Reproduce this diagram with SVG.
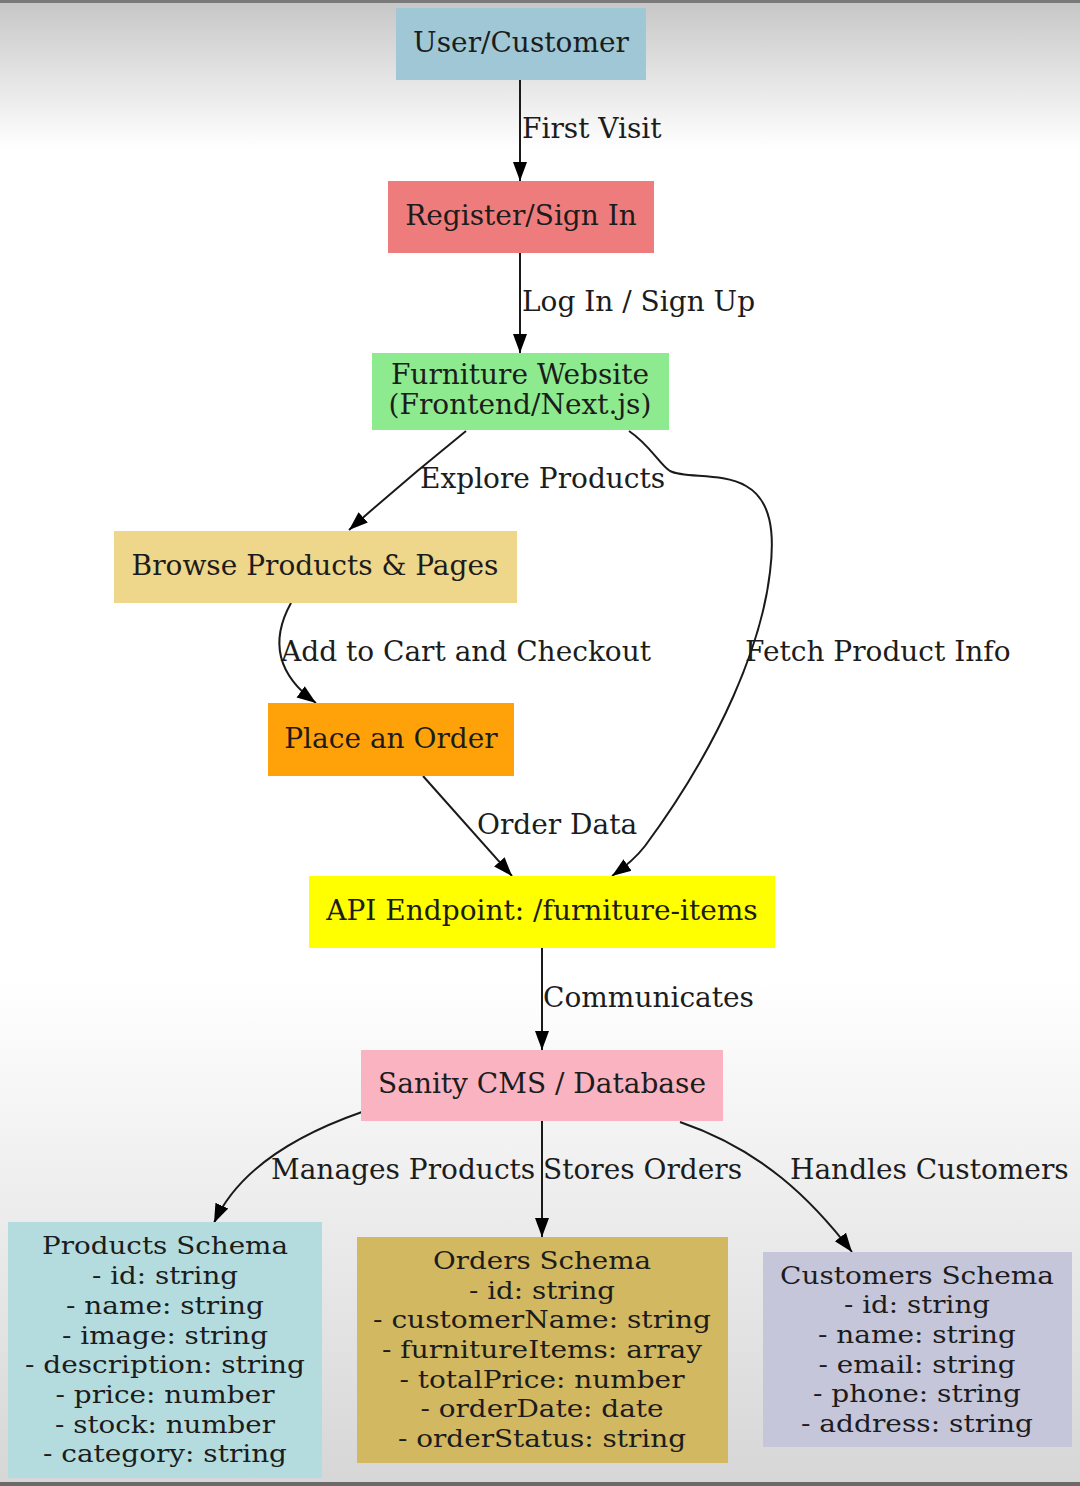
<svg xmlns="http://www.w3.org/2000/svg" width="1080" height="1486" viewBox="0 0 1080 1486">
<defs>
<linearGradient id="bg" x1="0" y1="0" x2="0" y2="1">
<stop offset="0" stop-color="#c6c6c6"/>
<stop offset="0.1" stop-color="#ffffff"/>
<stop offset="0.66" stop-color="#ffffff"/>
<stop offset="1" stop-color="#d6d6d6"/>
</linearGradient>
<marker id="ah" markerUnits="userSpaceOnUse" markerWidth="20" markerHeight="16" viewBox="0 0 20 16" refX="19" refY="8" orient="auto">
<path d="M0,1 L19,8 L0,15 Z" fill="#000"/>
</marker>
<style>
.t{font-family:"DejaVu Serif","Liberation Serif",serif;font-size:28px;fill:#1c1c1c}
.c{text-anchor:middle}
.s{font-family:"DejaVu Serif","Liberation Serif",serif;font-size:25px;fill:#1c1c1c;text-anchor:middle}
.e{fill:none;stroke:#1a1a1a;stroke-width:2;marker-end:url(#ah)}
</style>
</defs>
<rect x="0" y="0" width="1080" height="1486" fill="url(#bg)"/>
<rect x="0" y="0" width="1080" height="3" fill="#7a7a7a"/>
<rect x="0" y="1482" width="1080" height="4" fill="#6a6a6a"/>

<g id="edges">
<path class="e" d="M520,80 L520,181"/>
<path class="e" d="M520,253 L520,353"/>
<path class="e" d="M466,431 C430,460 385,498 349,530"/>
<path class="e" d="M629,431 C650,445 660,465 670,471 C685,479 722,472 746,486 C771,500 775,532 770,572 C762,642 722,742 645,846 C635,859 622,869 612,876"/>
<path class="e" d="M291,603 C276,630 268,668 316,703"/>
<path class="e" d="M423,776 L512,876"/>
<path class="e" d="M542,948 L542,1050"/>
<path class="e" d="M362,1112 C296,1135 238,1170 214,1223"/>
<path class="e" d="M542,1121 L542,1237"/>
<path class="e" d="M680,1122 C762,1150 812,1200 852,1252"/>
<text class="t" x="522" y="138">First Visit</text>
<text class="t" x="522" y="311">Log In / Sign Up</text>
<text class="t" x="420" y="488">Explore Products</text>
<text class="t" x="281" y="661">Add to Cart and Checkout</text>
<text class="t" x="745" y="661">Fetch Product Info</text>
<text class="t" x="477" y="834">Order Data</text>
<text class="t" x="543" y="1007">Communicates</text>
<text class="t" x="271" y="1179">Manages Products</text>
<text class="t" x="543" y="1179">Stores Orders</text>
<text class="t" x="790" y="1179">Handles Customers</text>
</g>

<g id="user">
<rect x="396" y="8" width="250" height="72" fill="#9fc7d6"/>
<text class="t c" x="521" y="52">User/Customer</text>
</g>
<g id="register">
<rect x="388" y="181" width="266" height="72" fill="#ef7c7c"/>
<text class="t c" x="521" y="225">Register/Sign In</text>
</g>
<g id="website">
<rect x="372" y="353" width="297" height="77" fill="#8eea8e"/>
<text class="t c" x="520" y="384">Furniture Website</text>
<text class="t c" x="520" y="414">(Frontend/Next.js)</text>
</g>
<g id="browse">
<rect x="114" y="531" width="403" height="72" fill="#eed68a"/>
<text class="t c" x="315" y="575">Browse Products &amp; Pages</text>
</g>
<g id="order">
<rect x="268" y="703" width="246" height="73" fill="#ffa20a"/>
<text class="t c" x="391" y="748">Place an Order</text>
</g>
<g id="api">
<rect x="309" y="876" width="466" height="72" fill="#ffff00"/>
<text class="t c" x="542" y="920">API Endpoint: /furniture-items</text>
</g>
<g id="sanity">
<rect x="361" y="1050" width="362" height="71" fill="#f9b3c1"/>
<text class="t c" x="542" y="1093">Sanity CMS / Database</text>
</g>
<g id="products">
<rect x="8" y="1222" width="314" height="256" fill="#b4dcdf"/>
<text class="s" x="165" y="1254" textLength="246" lengthAdjust="spacingAndGlyphs">Products Schema</text>
<text class="s" x="165" y="1284" textLength="146" lengthAdjust="spacingAndGlyphs">- id: string</text>
<text class="s" x="165" y="1314" textLength="198" lengthAdjust="spacingAndGlyphs">- name: string</text>
<text class="s" x="165" y="1344" textLength="206" lengthAdjust="spacingAndGlyphs">- image: string</text>
<text class="s" x="165" y="1373" textLength="280" lengthAdjust="spacingAndGlyphs">- description: string</text>
<text class="s" x="165" y="1403" textLength="219" lengthAdjust="spacingAndGlyphs">- price: number</text>
<text class="s" x="165" y="1433" textLength="220" lengthAdjust="spacingAndGlyphs">- stock: number</text>
<text class="s" x="165" y="1462" textLength="244" lengthAdjust="spacingAndGlyphs">- category: string</text>
</g>
<g id="orders">
<rect x="357" y="1237" width="371" height="226" fill="#d2b860"/>
<text class="s" x="542" y="1269" textLength="218" lengthAdjust="spacingAndGlyphs">Orders Schema</text>
<text class="s" x="542" y="1299" textLength="146" lengthAdjust="spacingAndGlyphs">- id: string</text>
<text class="s" x="542" y="1328" textLength="338" lengthAdjust="spacingAndGlyphs">- customerName: string</text>
<text class="s" x="542" y="1358" textLength="320" lengthAdjust="spacingAndGlyphs">- furnitureItems: array</text>
<text class="s" x="542" y="1388" textLength="285" lengthAdjust="spacingAndGlyphs">- totalPrice: number</text>
<text class="s" x="542" y="1417" textLength="243" lengthAdjust="spacingAndGlyphs">- orderDate: date</text>
<text class="s" x="542" y="1447" textLength="288" lengthAdjust="spacingAndGlyphs">- orderStatus: string</text>
</g>
<g id="customers">
<rect x="763" y="1252" width="309" height="195" fill="#c6c6db"/>
<text class="s" x="917" y="1284" textLength="274" lengthAdjust="spacingAndGlyphs">Customers Schema</text>
<text class="s" x="917" y="1313" textLength="146" lengthAdjust="spacingAndGlyphs">- id: string</text>
<text class="s" x="917" y="1343" textLength="198" lengthAdjust="spacingAndGlyphs">- name: string</text>
<text class="s" x="917" y="1373" textLength="197" lengthAdjust="spacingAndGlyphs">- email: string</text>
<text class="s" x="917" y="1402" textLength="208" lengthAdjust="spacingAndGlyphs">- phone: string</text>
<text class="s" x="917" y="1432" textLength="232" lengthAdjust="spacingAndGlyphs">- address: string</text>
</g>
</svg>
